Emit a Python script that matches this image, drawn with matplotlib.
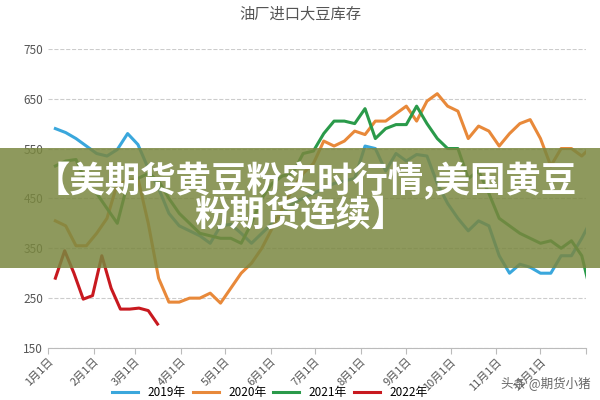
import matplotlib
matplotlib.use("Agg")
import matplotlib.pyplot as plt
from matplotlib.patches import Rectangle

plt.rcParams['font.family'] = ['Noto Sans CJK SC', 'DejaVu Sans']

y2019 = [590,582,570,555,540,535,548,580,558,510,470,420,395,
         385,375,360,395,398,380,360,380,400,420,440,450,460,470,480,
         485,490,555,550,505,540,525,538,535,480,440,410,
         385,405,395,335,300,318,312,300,300,335,335,370,410]
y2020 = [405,395,355,355,380,410,480,485,490,400,290,242,242,
         250,250,260,240,270,300,320,350,390,430,470,500,
         520,565,555,565,585,578,605,605,620,635,605,645,660,
         635,625,570,595,585,555,580,600,608,570,515,550,550,535,555]
y2021 = [515,525,528,480,460,430,400,480,490,500,485,450,420,
         400,380,375,370,370,360,400,
         450,480,495,500,540,545,580,605,605,600,630,570,
         590,598,598,635,600,570,550,550,490,505,460,410,395,380,370,360,365,350,365,335,250]
y2022 = [290,345,300,248,255,335,270,228,228,230,225,198]
series = [("2019年", y2019, "#3aa7dc"), ("2020年", y2020, "#e8893a"),
          ("2021年", y2021, "#2a9a4a"), ("2022年", y2022, "#c8191f")]
month_days = [0,31,59,90,120,151,181,212,243,273,304,334]
month_labels = [f"{m}月1日" for m in range(1,13)]

fig = plt.figure(figsize=(6,4), dpi=100)
ax = fig.add_axes([0.08, 0.13, 0.897, 0.748])
for name, ys, c in series:
    xs = [5 + 7*i for i in range(len(ys))]
    if name == "2022年":
        xs = [5 + 6.3*i for i in range(len(ys))]
    ax.plot(xs, ys, color=c, lw=2.2, label=name)
ax.set_xlim(0, 365)
ax.set_ylim(150, 750)
ax.set_yticks([150,250,350,450,550,650,750])
ax.set_xticks(month_days + [365])
ax.set_xticklabels(month_labels + [""], rotation=45, ha='right', rotation_mode='anchor',
                   fontsize=8, color='#555')
ax.tick_params(axis='y', length=0, labelsize=8.5, labelcolor='#555')
ax.tick_params(axis='x', length=4, color='#bbb', pad=2)
ax.grid(axis='y', ls='--', color='#ccc', lw=0.8)
for s in ['top','right','left']:
    ax.spines[s].set_visible(False)
ax.spines['bottom'].set_color('#bbb')
fig.text(0.5, 0.965, "油厂进口大豆库存", ha='center', va='center', fontsize=11, color='#555')
fig.legend(loc='lower center', ncol=4, frameon=False, fontsize=8.5, bbox_to_anchor=(0.45, -0.025),
           handlelength=2.2, columnspacing=0.6)
fig.text(0.985, 0.03, "头条 @期货小猪", ha='right', fontsize=9, color='#666')
fig.patches.append(Rectangle((0, 0.33), 1, 0.3, transform=fig.transFigure,
                             facecolor='#7a8740', alpha=0.85, zorder=5))
fig.text(0.51, 0.548, "【美期货黄豆粉实时行情,美国黄豆", ha='center', va='center',
         fontsize=25.5, color='white', weight='bold', zorder=6)
fig.text(0.5, 0.462, "粉期货连续】", ha='center', va='center',
         fontsize=25.5, color='white', weight='bold', zorder=6)
fig.savefig("out.png", dpi=100)
